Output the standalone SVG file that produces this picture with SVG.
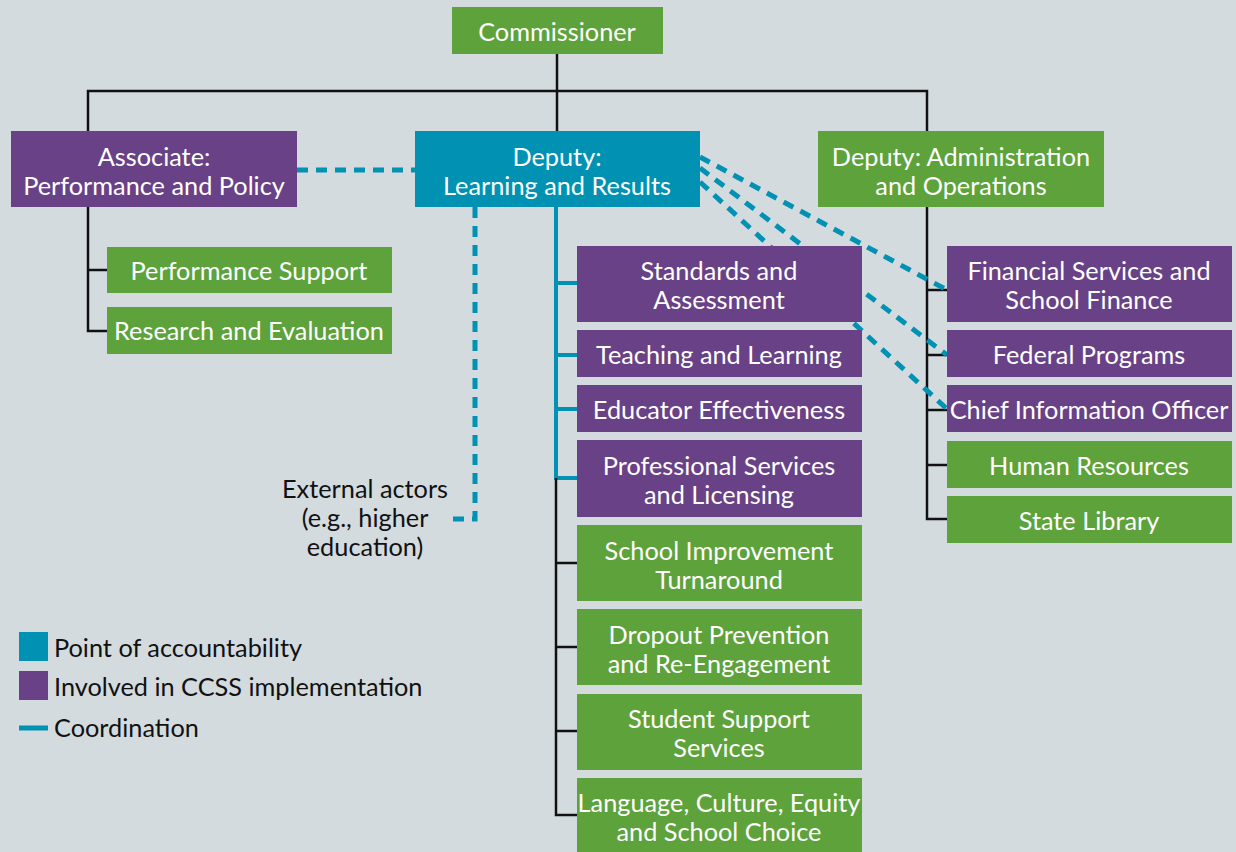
<svg xmlns="http://www.w3.org/2000/svg" width="1236" height="852" viewBox="0 0 1236 852">
<style>
.g{fill:#5da23a}.p{fill:#694186}.t{fill:#0091b3}
text{font-family:Lato,"Open Sans",sans-serif;font-size:25.3px;fill:#fff;text-anchor:middle}
.k{fill:#111;text-anchor:start}
.kc{fill:#111}
.bl{stroke:#111;stroke-width:2.5;fill:none}
.tl{stroke:#0091b3;stroke-width:4;fill:none}
.dl{stroke:#0091b3;stroke-width:5;fill:none;stroke-dasharray:11 8}
</style>
<rect width="1236" height="852" fill="#d3dbdf"/>
<g id="connectors">
<path class="bl" d="M557 54V131M88 131V91H927V131"/>
<path class="bl" d="M88 207V331H107M88 270H107"/>
<path class="tl" d="M556 207V478H577M556 283H577M556 355H577M556 409H577"/>
<path class="bl" d="M556 478V815H577M556 563H577M556 647H577M556 731H577"/>
<path class="bl" d="M927 207V519H947M927 290H947M927 355H947M927 410H947M927 465H947"/>
<path class="dl" d="M297 170H415"/>
<path class="dl" d="M475 207V519H450"/>
<path class="dl" d="M700 157L947 290M700 168L947 355M700 182L947 409"/>
</g>
<g id="commissioner"><rect class="g" x="452" y="7" width="211" height="47"/><text x="557" y="41">Commissioner</text></g>
<g id="associate"><rect class="p" x="11" y="131" width="286" height="76"/><text x="154" y="166">Associate:</text><text x="154" y="195">Performance and Policy</text></g>
<g id="deputy-lr"><rect class="t" x="415" y="131" width="285" height="76"/><text x="557" y="166">Deputy:</text><text x="557" y="195">Learning and Results</text></g>
<g id="deputy-ao"><rect class="g" x="818" y="131" width="286" height="76"/><text x="961" y="166">Deputy: Administration</text><text x="961" y="195">and Operations</text></g>
<g id="perf-support"><rect class="g" x="107" y="247" width="285" height="46"/><text x="249" y="280">Performance Support</text></g>
<g id="research"><rect class="g" x="107" y="307" width="285" height="47"/><text x="249" y="340">Research and Evaluation</text></g>
<g id="standards"><rect class="p" x="577" y="246" width="285" height="76"/><text x="719" y="280">Standards and</text><text x="719" y="309">Assessment</text></g>
<g id="teaching"><rect class="p" x="577" y="330" width="285" height="47"/><text x="719" y="364">Teaching and Learning</text></g>
<g id="educator"><rect class="p" x="577" y="385" width="285" height="47"/><text x="719" y="419">Educator Effectiveness</text></g>
<g id="professional"><rect class="p" x="577" y="440" width="285" height="77"/><text x="719" y="475">Professional Services</text><text x="719" y="504">and Licensing</text></g>
<g id="school-improvement"><rect class="g" x="577" y="525" width="285" height="76"/><text x="719" y="560">School Improvement</text><text x="719" y="589">Turnaround</text></g>
<g id="dropout"><rect class="g" x="577" y="609" width="285" height="76"/><text x="719" y="644">Dropout Prevention</text><text x="719" y="673">and Re-Engagement</text></g>
<g id="student-support"><rect class="g" x="577" y="694" width="285" height="76"/><text x="719" y="728">Student Support</text><text x="719" y="757">Services</text></g>
<g id="language"><rect class="g" x="577" y="778" width="285" height="74"/><text x="719" y="812">Language, Culture, Equity</text><text x="719" y="841">and School Choice</text></g>
<g id="financial"><rect class="p" x="947" y="246" width="285" height="76"/><text x="1089" y="280">Financial Services and</text><text x="1089" y="309">School Finance</text></g>
<g id="federal"><rect class="p" x="947" y="330" width="285" height="47"/><text x="1089" y="364">Federal Programs</text></g>
<g id="cio"><rect class="p" x="947" y="385" width="285" height="47"/><text x="1089" y="419">Chief Information Officer</text></g>
<g id="hr"><rect class="g" x="947" y="441" width="285" height="47"/><text x="1089" y="475">Human Resources</text></g>
<g id="library"><rect class="g" x="947" y="496" width="285" height="47"/><text x="1089" y="530">State Library</text></g>
<g id="external"><text class="kc" x="365" y="498">External actors</text><text class="kc" x="365" y="527">(e.g., higher</text><text class="kc" x="365" y="556">education)</text></g>
<g id="legend">
<rect class="t" x="19" y="632" width="29" height="29"/>
<rect class="p" x="19" y="671" width="29" height="29"/>
<path d="M19 728H48" stroke="#0091b3" stroke-width="5"/>
<text class="k" x="54" y="657">Point of accountability</text>
<text class="k" x="54" y="696">Involved in CCSS implementation</text>
<text class="k" x="54" y="737">Coordination</text>
</g>
</svg>
